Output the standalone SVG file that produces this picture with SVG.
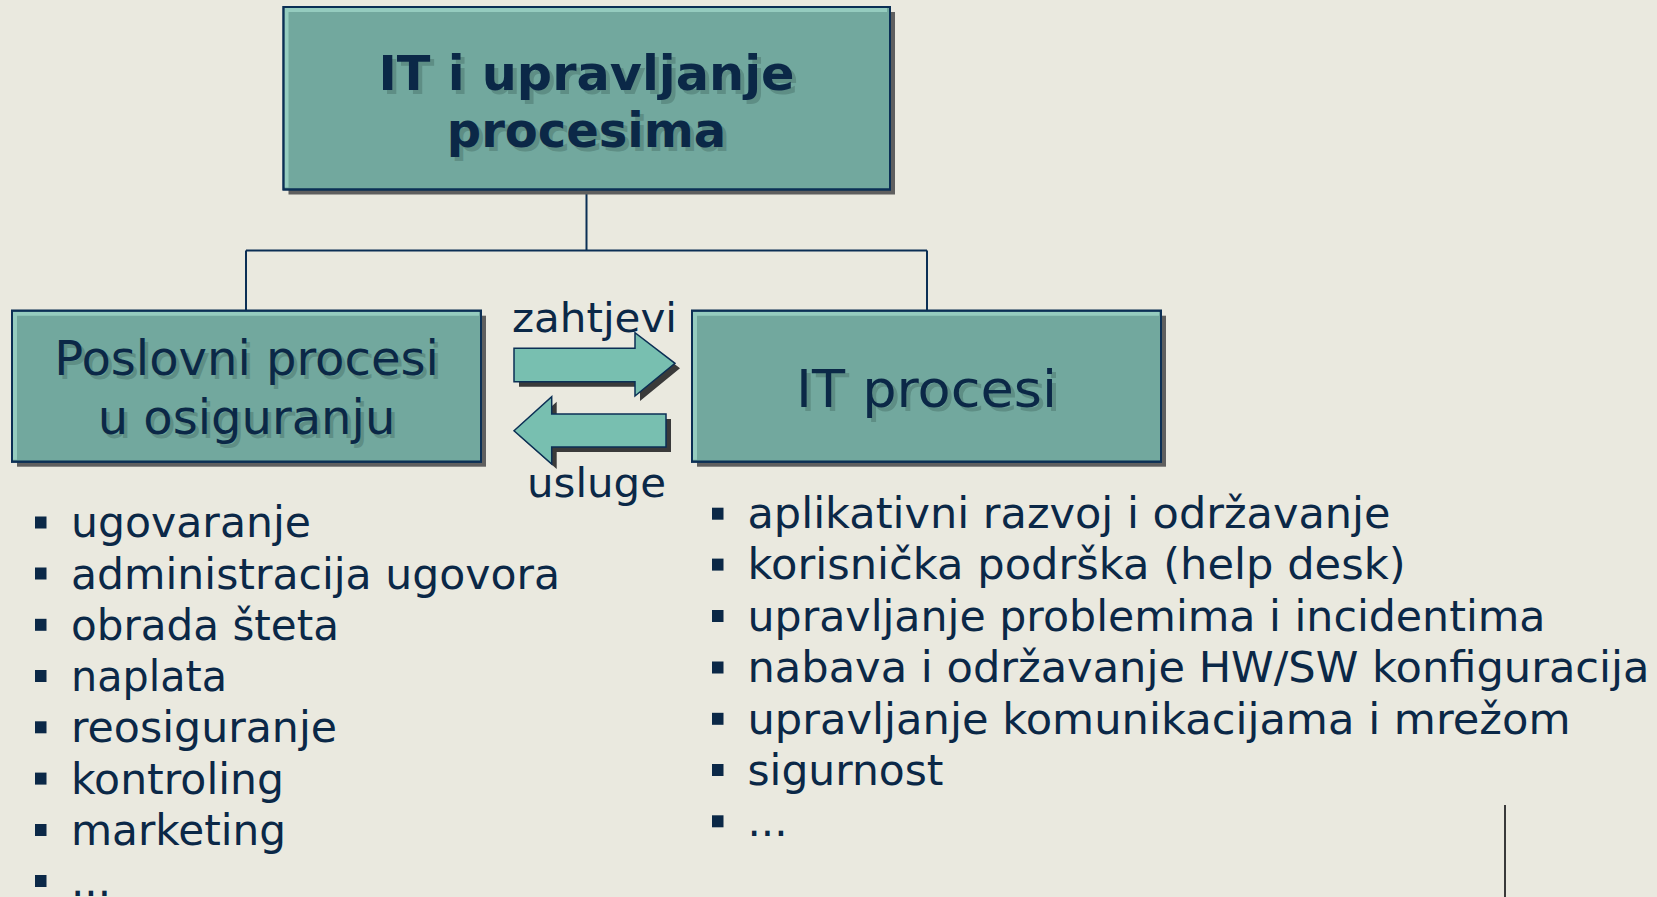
<svg xmlns="http://www.w3.org/2000/svg" width="1657" height="897" viewBox="0 0 1657 897">
  <defs>
    <style>
      .bg { fill: #EAE9DF; }
      .shadow { fill: #5F5F5F; }
      .box { fill: #72A89E; stroke: #0B2F55; stroke-width: 2; }
      .hl { fill: none; stroke: #95CCBF; stroke-width: 4; }
      .conn { fill: none; stroke: #0B2F55; stroke-width: 2; }
      .arrow { fill: #78BFB0; stroke: #0B2F55; stroke-width: 1.5; stroke-linejoin: miter; }
      .ashadow { fill: #3A3A3A; }
      .t { font-family: "DejaVu Sans", Verdana, sans-serif; fill: #0B2847; }
      .ts { font-family: "DejaVu Sans", Verdana, sans-serif; fill: #5E8E85; }
      .title { font-size: 48px; font-weight: bold; text-anchor: middle; }
      .node { font-size: 48px; text-anchor: middle; }
      .lbl { font-size: 41px; text-anchor: middle; }
      .li { font-size: 42px; }
      .bul { fill: #0B2847; }
    </style>
  </defs>
  <rect class="bg" x="0" y="0" width="1657" height="897"/>

  <g id="connectors">
    <line class="conn" x1="586.5" y1="190" x2="586.5" y2="250.5"/>
    <line class="conn" x1="246" y1="250.5" x2="927" y2="250.5"/>
    <line class="conn" x1="246" y1="250.5" x2="246" y2="311"/>
    <line class="conn" x1="927" y1="250.5" x2="927" y2="311"/>
  </g>

  <g id="node-top">
    <rect class="shadow" x="288.5" y="12" width="606.5" height="182.5"/>
    <rect class="box" x="283.5" y="7" width="606.5" height="182.5"/>
    <polyline class="hl" points="286.5,187.5 286.5,10 887,10"/>
    <rect x="283.5" y="7" width="606.5" height="182.5" fill="none" stroke="#0B2F55" stroke-width="2"/>
    <text class="ts title" x="590.5" y="93.5" textLength="416" lengthAdjust="spacingAndGlyphs">IT i upravljanje</text>
    <text class="ts title" x="590.5" y="150.5">procesima</text>
    <text class="t title" x="586.5" y="89.5" textLength="416" lengthAdjust="spacingAndGlyphs">IT i upravljanje</text>
    <text class="t title" x="586.5" y="146.5">procesima</text>
  </g>

  <g id="node-business">
    <rect class="shadow" x="17" y="315.7" width="469" height="151"/>
    <rect class="box" x="12" y="310.7" width="469" height="151"/>
    <polyline class="hl" points="15,459.7 15,313.7 479,313.7"/>
    <rect x="12" y="310.7" width="469" height="151" fill="none" stroke="#0B2F55" stroke-width="2"/>
    <text class="ts node" x="250" y="379">Poslovni procesi</text>
    <text class="ts node" x="250" y="438">u osiguranju</text>
    <text class="t node" x="246.5" y="375">Poslovni procesi</text>
    <text class="t node" x="246.5" y="434">u osiguranju</text>
  </g>

  <g id="node-it">
    <rect class="shadow" x="697" y="315.7" width="469" height="151"/>
    <rect class="box" x="692" y="310.7" width="469" height="151"/>
    <polyline class="hl" points="695,459.7 695,313.7 1159,313.7"/>
    <rect x="692" y="310.7" width="469" height="151" fill="none" stroke="#0B2F55" stroke-width="2"/>
    <text class="ts node" x="930.5" y="410.7" style="font-size:52px" textLength="261" lengthAdjust="spacingAndGlyphs">IT procesi</text>
    <text class="t node" x="926.5" y="406.7" style="font-size:52px" textLength="261" lengthAdjust="spacingAndGlyphs">IT procesi</text>
  </g>

  <g id="arrow-zahtjevi">
    <polygon class="ashadow" points="519,353.3 640,353.3 640,337.7 680,368.3 640,401 640,386.7 519,386.7"/>
    <polygon class="arrow" points="514,348.3 635,348.3 635,332.7 675,363.3 635,396 635,381.7 514,381.7"/>
    <text class="t lbl" x="594.5" y="332" textLength="165" lengthAdjust="spacingAndGlyphs">zahtjevi</text>
  </g>

  <g id="arrow-usluge">
    <polygon class="ashadow" points="519,435.7 556.7,401.7 556.7,419 671,419 671,452 556.7,452 556.7,469"/>
    <polygon class="arrow" points="514,430.7 551.7,396.7 551.7,414 666,414 666,447 551.7,447 551.7,464"/>
    <text class="t lbl" x="596.5" y="496.5" textLength="139" lengthAdjust="spacingAndGlyphs">usluge</text>
  </g>

  <g id="list-business">
    <rect class="bul" x="35" y="516.5" width="11.5" height="12"/>
    <text class="t li" x="71" y="537.3" textLength="240" lengthAdjust="spacingAndGlyphs">ugovaranje</text>
    <rect class="bul" x="35" y="567.5" width="11.5" height="12"/>
    <text class="t li" x="71" y="588.5" textLength="489" lengthAdjust="spacingAndGlyphs">administracija ugovora</text>
    <rect class="bul" x="35" y="618.8" width="11.5" height="12"/>
    <text class="t li" x="71" y="639.7" textLength="268" lengthAdjust="spacingAndGlyphs">obrada šteta</text>
    <rect class="bul" x="35" y="670" width="11.5" height="12"/>
    <text class="t li" x="71" y="691" textLength="156" lengthAdjust="spacingAndGlyphs">naplata</text>
    <rect class="bul" x="35" y="721.3" width="11.5" height="12"/>
    <text class="t li" x="71" y="742.2" textLength="266" lengthAdjust="spacingAndGlyphs">reosiguranje</text>
    <rect class="bul" x="35" y="772.6" width="11.5" height="12"/>
    <text class="t li" x="71" y="793.5" textLength="213" lengthAdjust="spacingAndGlyphs">kontroling</text>
    <rect class="bul" x="35" y="824" width="11.5" height="12"/>
    <text class="t li" x="71" y="845" textLength="215" lengthAdjust="spacingAndGlyphs">marketing</text>
    <rect class="bul" x="35" y="875" width="11.5" height="12"/>
    <text class="t li" x="71" y="896">...</text>
  </g>

  <g id="list-it">
    <rect class="bul" x="712" y="507.7" width="11.5" height="12"/>
    <text class="t li" x="747.5" y="528.3" textLength="643" lengthAdjust="spacingAndGlyphs">aplikativni razvoj i održavanje</text>
    <rect class="bul" x="712" y="558.6" width="11.5" height="12"/>
    <text class="t li" x="747.5" y="579.3" textLength="658" lengthAdjust="spacingAndGlyphs">korisnička podrška (help desk)</text>
    <rect class="bul" x="712" y="610" width="11.5" height="12"/>
    <text class="t li" x="747.5" y="630.8" textLength="798" lengthAdjust="spacingAndGlyphs">upravljanje problemima i incidentima</text>
    <rect class="bul" x="712" y="661.5" width="11.5" height="12"/>
    <text class="t li" x="747.5" y="682.2" textLength="902" lengthAdjust="spacingAndGlyphs">nabava i održavanje HW/SW konfiguracija</text>
    <rect class="bul" x="712" y="712.8" width="11.5" height="12"/>
    <text class="t li" x="747.5" y="733.6" textLength="823" lengthAdjust="spacingAndGlyphs">upravljanje komunikacijama i mrežom</text>
    <rect class="bul" x="712" y="764" width="11.5" height="12"/>
    <text class="t li" x="747.5" y="785" textLength="196" lengthAdjust="spacingAndGlyphs">sigurnost</text>
    <rect class="bul" x="712" y="815.3" width="11.5" height="12"/>
    <text class="t li" x="747.5" y="836.2">...</text>
  </g>

  <line x1="1505" y1="805" x2="1505" y2="897" stroke="#3A3A3A" stroke-width="2"/>
</svg>
